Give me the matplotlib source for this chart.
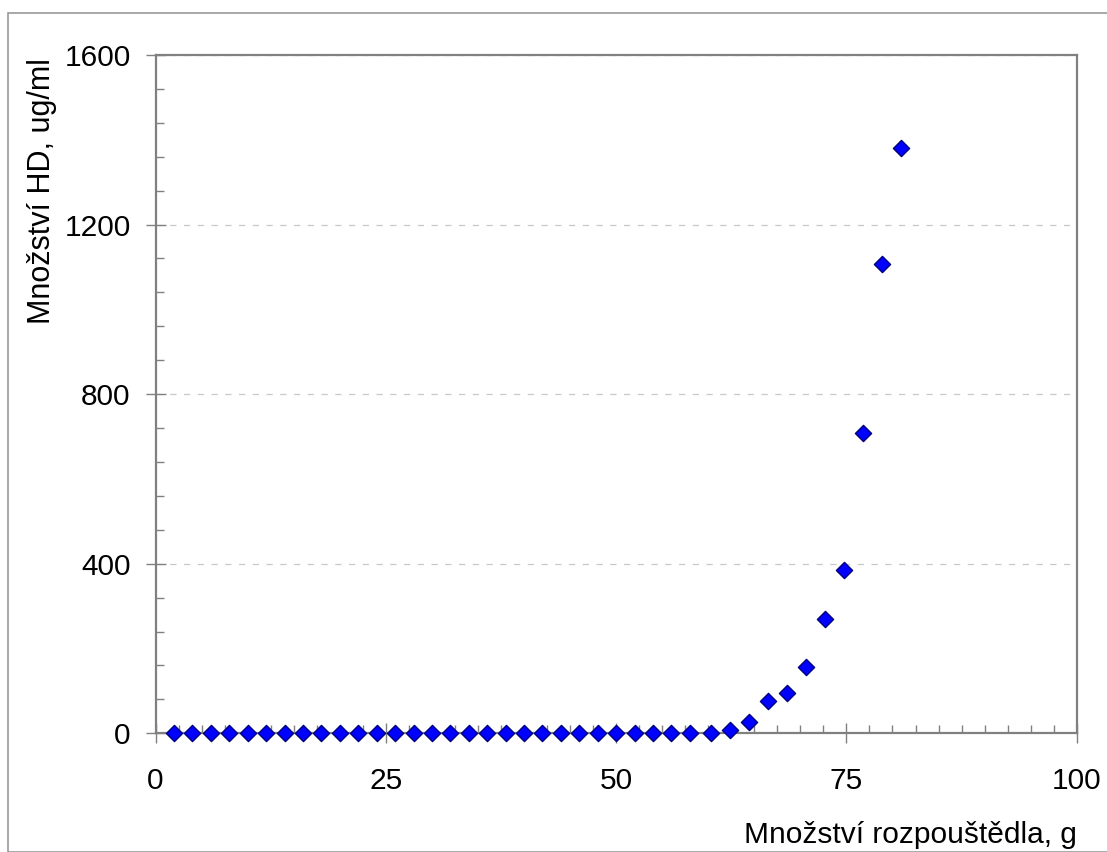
import matplotlib
matplotlib.use("Agg")
import matplotlib.pyplot as plt
from matplotlib.ticker import MultipleLocator
from matplotlib.patches import Rectangle

# Solvent amount (g) and HD concentration (ug/ml)
solvent_g = [2, 4, 6, 8, 10, 12, 14, 16, 18, 20, 22, 24, 26, 28, 30,
             32, 34, 36, 38, 40, 42, 44, 46, 48, 50, 52, 54, 56, 58,
             60.3, 62.4, 64.4, 66.5, 68.5, 70.6, 72.7, 74.7, 76.8, 78.85, 80.9]
hd_ug_ml = [0, 0, 0, 0, 0, 0, 0, 0, 0, 0, 0, 0, 0, 0, 0,
            0, 0, 0, 0, 0, 0, 0, 0, 0, 0, 0, 0, 0, 0,
            0, 8, 27, 77, 96, 156, 269, 386, 708, 1107, 1380]

x_ticks = [0, 25, 50, 75, 100]
y_ticks = [0, 400, 800, 1200, 1600]

plt.rcParams["font.family"] = ["Liberation Sans", "DejaVu Sans"]

W, H = 1107, 852
fig = plt.figure(figsize=(W / 100, H / 100), dpi=100)
fig.patch.set_facecolor("white")

# outer chart frame
fig.patches.append(Rectangle((8 / W, 0), 1.2, 1 - 13 / H, transform=fig.transFigure,
                             fill=False, edgecolor="#9a9a9a", linewidth=1.2))

ax = fig.add_axes([155.6 / W, 1 - 733.3 / H, (1076.7 - 155.6) / W, (733.3 - 55) / H])

ax.scatter(solvent_g, hd_ug_ml, marker="D", s=68, facecolor="#0000ff",
           edgecolor="#000080", linewidth=1.0, zorder=5, clip_on=False)

ax.set_xlim(0, 100)
ax.set_ylim(0, 1600)
ax.set_xticks(x_ticks)
ax.set_yticks(y_ticks)
ax.xaxis.set_minor_locator(MultipleLocator(2.5))
ax.yaxis.set_minor_locator(MultipleLocator(80))

ax.grid(axis="y", which="major", color="#c8c8c8", linestyle=(0, (5, 6)), linewidth=0.9)
ax.set_axisbelow(True)

for sp in ax.spines.values():
    sp.set_color("#808080")
    sp.set_linewidth(1.6)

ax.tick_params(which="major", direction="inout", length=14, width=1.0, color="#808080",
               labelsize=21.5, labelcolor="black")
ax.tick_params(axis="y", which="major", pad=11)
ax.tick_params(axis="x", which="major", pad=17)
ax.tick_params(which="minor", direction="in", length=6, width=1.0, color="#808080")

fig.text(42 / W, 1 - 58 / H, "Množství HD, ug/ml", rotation=90, ha="center", va="top",
         fontsize=22)
fig.text(1077 / W, 1 - 843 / H, "Množství rozpouštědla, g", ha="right", va="baseline",
         fontsize=21.5)

fig.savefig("out.png", dpi=100, facecolor="white")
